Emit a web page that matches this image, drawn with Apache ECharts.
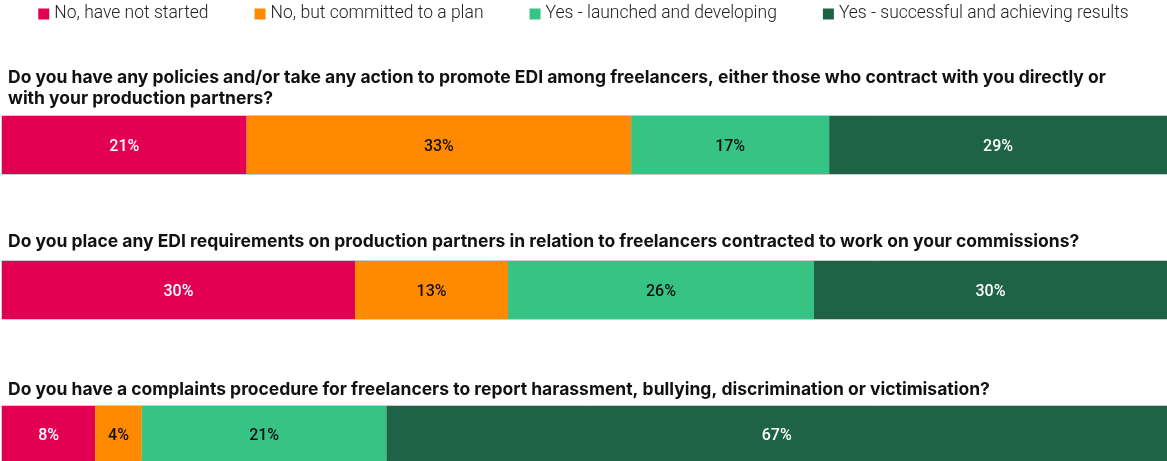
<!DOCTYPE html>
<html>
<head>
<meta charset="utf-8">
<script src="https://cdn.jsdelivr.net/npm/echarts@6/dist/echarts.min.js"></script>
<style>
  html, body { margin: 0; padding: 0; background: #ffffff; }
  #chart { width: 1167px; height: 461px; }
</style>
</head>
<body>
<div id="chart"></div>
<script>
// Answer options (legend / stack order)
const answers = [
  'No, have not started',
  'No, but committed to a plan',
  'Yes - launched and developing',
  'Yes - successful and achieving results'
];

// Survey questions, one stacked bar each
const questions = [
  'Do you have any policies and/or take any action to promote EDI among freelancers, either those who contract with you directly or\nwith your production partners?',
  'Do you place any EDI requirements on production partners in relation to freelancers contracted to work on your commissions?',
  'Do you have a complaints procedure for freelancers to report harassment, bullying, discrimination or victimisation?'
];

// Share of respondents (%) per question
const notStarted = [21, 30, 8];
const committed  = [33, 13, 4];
const launched   = [17, 26, 21];
const successful = [29, 30, 67];

const answerValues = [notStarted, committed, launched, successful];
const answerColors = ['#E30052', '#FF8A00', '#37C383', '#1E6345'];
const labelColors  = ['#ffffff', '#111111', '#111111', '#ffffff'];

const rowTop = [116, 261, 406];
const titleTop = [62, 226, 374];
const barHeight = 58;

const grids = [], xAxes = [], yAxes = [], titles = [], series = [];

questions.forEach((q, i) => {
  const total = answerValues.reduce((s, arr) => s + arr[i], 0);
  grids.push({
    left: 2, right: 0, top: rowTop[i], height: barHeight,
    show: true, borderColor: '#9a9a9a', borderWidth: 1, backgroundColor: 'transparent'
  });
  xAxes.push({
    type: 'value', gridIndex: i, min: 0, max: total, show: false
  });
  yAxes.push({
    type: 'category', gridIndex: i, data: ['Q' + (i + 1)], show: false
  });
  titles.push({
    text: q, left: 3, top: titleTop[i],
    textStyle: {
      fontFamily: 'Inter', fontWeight: 700, fontSize: 17.5,
      color: '#111111', lineHeight: 21
    }
  });
  answers.forEach((name, k) => {
    series.push({
      name: name,
      type: 'bar',
      stack: 'row' + i,
      xAxisIndex: i,
      yAxisIndex: i,
      barWidth: '100%',
      data: [answerValues[k][i]],
      itemStyle: { color: answerColors[k] },
      label: {
        show: true, position: 'inside',
        offset: [0, 2],
        formatter: p => p.value + '%',
        color: labelColors[k],
        fontFamily: 'Roboto',
        fontSize: 16,
        fontWeight: 500
      },
      silent: true
    });
  });
});

const chart = echarts.init(document.getElementById('chart'), null, { renderer: 'canvas' });
chart.setOption({
  animation: false,
  color: answerColors,
  title: titles,
  legend: {
    data: answers,
    top: 0,
    left: 'center',
    itemWidth: 11,
    itemHeight: 11,
    itemGap: 46,
    icon: 'rect',
    textStyle: {
      fontFamily: 'Roboto', fontSize: 17.5, fontWeight: 300, color: '#222222'
    }
  },
  grid: grids,
  xAxis: xAxes,
  yAxis: yAxes,
  series: series
});
</script>
</body>
</html>
